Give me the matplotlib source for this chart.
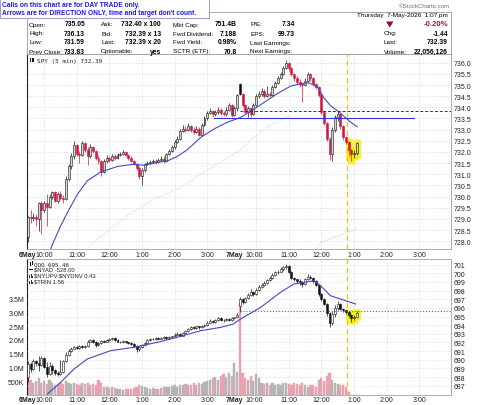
import matplotlib
matplotlib.use('Agg')
from matplotlib import pyplot as plt
from matplotlib.patches import Rectangle, Polygon
from matplotlib import transforms

plt.rcParams['font.family'] = ['Liberation Sans', 'DejaVu Sans']

#---- Data ----#
# SPY 5 min bars (bar index 0 = 6May 9:30, 78 = 7May 9:30).
spy_cls = [729.10, 729.05, 729.10, 729.00, 729.70, 729.40, 729.70, 729.55, 730.00, 730.20,
           729.80, 730.10, 729.95, 729.90, 730.80, 731.35, 731.80, 732.30, 731.90, 731.85,
           732.40, 732.10, 731.80, 732.20, 732.05, 731.75, 731.60, 731.10, 731.60, 731.75,
           731.65, 731.80, 731.75, 731.85, 731.90, 732.00, 731.85, 731.75, 731.60, 731.45,
           731.30, 730.90, 731.20, 731.45, 731.50, 731.55, 731.60, 731.55, 731.65, 731.70,
           731.60, 731.90, 732.05, 732.20, 732.45, 732.60, 732.95, 733.05, 733.00, 733.15,
           733.00, 732.90, 733.05, 732.75, 733.20, 733.50, 733.75, 733.85, 733.70, 733.80,
           733.90, 733.75, 733.70, 733.90, 734.10, 733.65, 733.95, 734.55, 734.60, 734.10,
           733.80, 733.95, 733.70, 734.10, 734.50, 734.60, 734.75, 734.50, 734.60, 734.55,
           734.90, 735.10, 735.30, 735.50, 735.75, 736.00, 735.75, 735.50, 735.30, 735.15,
           735.05, 735.00, 735.20, 735.50, 735.30, 735.05, 734.90, 734.55, 733.80, 733.30,
           732.60, 731.90, 733.00, 733.55, 733.70, 733.15, 732.65, 732.45, 732.10, 731.90,
           731.95, 732.39]
spy_hi = [729.15, 729.40, 729.25, 729.20, 729.75, 729.80, 729.80, 730.10, 730.10, 730.25,
          730.25, 730.20, 730.25, 730.05, 730.90, 731.45, 731.95, 732.50, 732.35, 732.05,
          732.50, 732.45, 732.20, 732.35, 732.25, 732.10, 731.85, 731.65, 731.70, 731.85,
          731.80, 731.90, 731.90, 731.95, 732.00, 732.10, 732.05, 731.90, 731.80, 731.65,
          731.50, 731.35, 731.30, 731.50, 731.60, 731.65, 731.70, 731.70, 731.75, 731.80,
          731.80, 731.95, 732.15, 732.30, 732.55, 732.70, 733.05, 733.20, 733.15, 733.30,
          733.20, 733.10, 733.15, 733.10, 733.30, 733.60, 733.85, 733.95, 733.90, 733.90,
          734.00, 733.95, 733.85, 734.00, 734.20, 734.15, 734.05, 734.60, 735.10, 734.65,
          734.15, 734.05, 734.00, 734.20, 734.60, 734.75, 734.85, 734.80, 734.95, 734.70,
          735.00, 735.20, 735.40, 735.60, 735.85, 736.13, 736.05, 735.80, 735.55, 735.40,
          735.25, 735.15, 735.30, 735.60, 735.55, 735.35, 735.10, 734.95, 734.60, 733.85,
          733.35, 732.65, 733.10, 733.65, 733.85, 733.75, 733.20, 732.70, 732.50, 732.15,
          732.10, 732.45]
spy_lo = [727.95, 728.80, 728.90, 728.70, 728.45, 728.30, 729.30, 728.70, 729.50, 729.90,
          729.75, 729.70, 729.85, 729.70, 729.85, 730.70, 731.25, 731.70, 731.80, 731.50,
          731.80, 732.00, 731.40, 731.75, 731.95, 731.65, 731.45, 730.90, 731.05, 731.50,
          731.55, 731.60, 731.65, 731.70, 731.80, 731.85, 731.80, 731.65, 731.55, 731.40,
          731.20, 730.80, 730.50, 731.10, 731.40, 731.45, 731.50, 731.45, 731.50, 731.60,
          731.50, 731.55, 731.85, 732.00, 732.15, 732.40, 732.55, 732.90, 732.90, 732.95,
          732.90, 732.80, 732.85, 732.70, 732.70, 733.15, 733.45, 733.70, 733.55, 733.60,
          733.70, 733.65, 733.60, 733.60, 733.85, 733.55, 733.60, 733.85, 734.55, 734.00,
          733.70, 733.55, 733.55, 733.65, 734.05, 734.40, 734.50, 734.40, 734.45, 734.45,
          734.50, 734.85, 735.05, 735.25, 735.45, 735.70, 735.65, 735.40, 735.20, 735.05,
          734.90, 734.25, 734.95, 735.15, 735.20, 734.95, 734.80, 734.45, 733.70, 733.20,
          732.50, 731.65, 731.59, 732.90, 733.40, 733.05, 732.55, 732.35, 731.80, 731.60,
          731.75, 731.85]
spy_day_open = {0: 728.20, 78: 735.05}

# SPY moving average (blue) and slower averages (dotted), read at bar positions.
spy_ma_x = [8.0, 9.1, 12.1, 14.6, 18.3, 21.9, 26.8, 33, 39, 43, 47.7, 51.4, 55, 58.7, 63.6,
            68.5, 73.4, 78.3, 83, 90.4, 93, 96.7, 100.4, 103, 105, 107, 108.8, 111.4,
            113.9, 116.3, 118.8, 121.2]
spy_ma_y = [727.5, 727.87, 728.69, 729.29, 730.11, 730.71, 731.1, 731.35, 731.45, 731.4,
            731.53, 731.6, 731.8, 732.1, 732.65, 733.03, 733.33, 733.55, 733.9, 734.5,
            734.7, 734.95, 735.05, 735.1, 735.02, 734.85, 734.45, 734.07, 733.85, 733.6,
            733.33, 733.13]
spy_ma2_x = [22, 23.2, 31.7, 39, 46.4, 55, 63.6, 71, 78.3, 84, 90, 96]
spy_ma2_y = [727.6, 727.87, 728.69, 729.35, 729.9, 730.33, 731.0, 731.55, 732.1, 732.75,
             733.25, 733.6]
spy_ma3_x = [106, 108, 121]
spy_ma3_y = [727.6, 727.95, 728.55]

# QQQ 5 min bars.
qqq_cls = [689.50, 688.90, 689.80, 689.60, 689.40, 690.20, 689.20, 688.40, 689.30, 688.80,
           688.50, 688.30, 688.60, 689.80, 690.50, 691.00, 691.30, 691.50, 691.40, 691.55,
           691.45, 691.60, 692.10, 692.30, 692.10, 691.70, 691.90, 692.20, 692.10, 692.30,
           692.40, 692.50, 692.30, 692.10, 692.00, 692.15, 692.05, 691.90, 691.80, 691.60,
           691.20, 691.50, 691.70, 691.95, 692.30, 692.40, 692.35, 692.50, 692.45, 692.55,
           692.60, 692.50, 692.65, 692.70, 692.90, 693.00, 692.80, 693.10, 693.30, 693.60,
           693.80, 693.70, 693.85, 693.75, 693.90, 694.00, 694.30, 694.50, 694.40, 694.60,
           694.80, 694.60, 694.55, 694.70, 694.60, 694.80, 694.90, 695.20, 697.00, 696.70,
           697.10, 697.50, 697.80, 697.60, 698.10, 698.40, 698.70, 698.90, 699.20, 699.50,
           699.80, 700.10, 700.20, 700.50, 700.70, 700.90, 700.20, 699.50, 699.30, 699.10,
           699.00, 698.80, 699.30, 699.60, 699.50, 699.10, 698.70, 697.60, 697.00, 696.50,
           695.40, 694.20, 695.30, 696.00, 696.50, 695.90, 695.70, 695.50, 695.20, 694.80,
           695.00, 695.46]
qqq_hi = [689.90, 689.70, 690.10, 690.00, 690.40, 690.40, 690.30, 689.70, 689.70, 689.50,
          688.90, 688.70, 690.00, 690.00, 690.90, 691.30, 691.50, 691.60, 691.60, 691.70,
          691.65, 691.75, 692.30, 692.45, 692.40, 692.20, 692.00, 692.30, 692.30, 692.40,
          692.55, 692.65, 692.60, 692.40, 692.20, 692.25, 692.20, 692.10, 692.00, 691.90,
          691.70, 691.60, 691.80, 692.05, 692.40, 692.50, 692.50, 692.60, 692.60, 692.65,
          692.70, 692.70, 692.75, 692.80, 693.05, 693.20, 693.10, 693.20, 693.40, 693.70,
          693.95, 693.90, 693.95, 693.95, 694.00, 694.10, 694.45, 694.70, 694.60, 694.75,
          694.95, 694.90, 694.70, 694.80, 694.80, 694.90, 695.00, 695.40, 697.30, 697.20,
          697.30, 697.70, 698.20, 697.95, 698.30, 698.60, 698.90, 699.10, 699.40, 699.70,
          700.00, 700.30, 700.40, 700.70, 700.90, 701.10, 701.00, 700.30, 699.60, 699.40,
          699.30, 699.10, 699.50, 699.90, 699.80, 699.60, 699.20, 698.80, 697.70, 697.10,
          696.60, 695.50, 695.60, 696.30, 696.80, 696.60, 696.00, 695.80, 695.60, 695.30,
          695.20, 695.60]
qqq_lo = [687.40, 688.60, 688.80, 689.30, 688.70, 689.30, 689.00, 688.00, 688.20, 688.40,
          688.20, 688.10, 688.20, 688.50, 689.70, 690.40, 690.90, 691.20, 691.30, 691.30,
          691.35, 691.40, 691.50, 692.00, 691.90, 691.50, 691.60, 691.80, 692.00, 692.00,
          692.20, 692.30, 692.20, 692.00, 691.90, 691.90, 691.95, 691.80, 691.70, 691.50,
          690.90, 691.00, 691.40, 691.60, 691.90, 692.20, 692.25, 692.30, 692.35, 692.40,
          692.45, 692.40, 692.45, 692.55, 692.60, 692.85, 692.70, 692.75, 693.00, 693.20,
          693.50, 693.60, 693.60, 693.60, 693.65, 693.80, 693.95, 694.20, 694.30, 694.30,
          694.50, 694.50, 694.40, 694.45, 694.50, 694.50, 694.70, 694.80, 695.50, 696.45,
          696.60, 697.00, 697.40, 697.40, 697.50, 698.00, 698.30, 698.50, 698.80, 699.10,
          699.35, 699.70, 699.90, 700.10, 700.30, 700.50, 700.00, 699.30, 699.10, 698.90,
          698.70, 698.40, 698.70, 699.20, 699.30, 698.90, 698.50, 697.40, 696.80, 696.30,
          695.10, 693.80, 694.00, 695.00, 695.80, 695.70, 695.50, 695.30, 694.90, 694.40,
          694.60, 694.90]
qqq_day_open = {0: 688.00, 78: 696.20}
qqq_ma_x = [7.2, 12.1, 17, 21.9, 30.5, 39, 47.7, 55, 63.6, 71, 75.7, 78.3, 85.7, 93, 97.9,
            105.3, 107.7, 111.4, 115, 120.6]
qqq_ma_y = [686.03, 687.39, 688.93, 690.09, 691.05, 691.44, 692.02, 692.6, 693.36, 693.75,
            694.14, 694.72, 696.07, 697.81, 698.77, 699.15, 698.57, 697.41, 697.03, 696.45]

# Volume (millions).
vol = [1.10, 0.55, 0.45, 0.50, 0.60, 0.45, 0.50, 0.40, 0.55, 0.45,
       0.35, 0.40, 0.45, 0.40, 0.50, 0.45, 0.40, 0.42, 0.40, 0.38,
       0.42, 0.40, 0.45, 0.38, 0.40, 0.35, 0.55, 0.42, 0.30, 0.28,
       0.25, 0.30, 0.25, 0.22, 0.20, 0.18, 0.22, 0.20, 0.22, 0.25,
       0.30, 0.35, 0.32, 0.28, 0.25, 0.22, 0.25, 0.20, 0.22, 0.25,
       0.28, 0.30, 0.28, 0.32, 0.35, 0.30, 0.38, 0.35, 0.40, 0.38,
       0.35, 0.42, 0.38, 0.45, 0.40, 0.48, 0.50, 0.55, 0.60, 0.65,
       0.55, 0.70, 0.75, 0.65, 0.80, 0.70, 1.15, 0.85, 3.35, 0.80,
       0.60, 0.55, 0.70, 0.50, 0.75, 0.60, 0.45, 0.40, 0.45, 0.38,
       0.42, 0.35, 0.40, 0.38, 0.45, 0.42, 0.40, 0.35, 0.45, 0.40,
       0.38, 0.42, 0.35, 0.30, 0.38, 0.35, 0.30, 0.55, 0.62, 0.50,
       0.70, 0.80, 0.55, 0.45, 0.40, 0.38, 0.35, 0.30, 0.10, 0.00,
       0.00, 0.00]

# Levels and markers.
spy_dash_level = 733.82
spy_solid_level = 733.5
spy_solid_span = (68.4, 142)
qqq_dash_level = 695.6
time_marker = 117.3
highlight_bars = [118, 119, 120, 121]

# Time axis labels (bar index, text, bold).
xlab_pos = [0, 6, 18, 30, 42, 54, 66, 76, 83.2, 96, 108, 120, 132, 144]
xlab_txt = ['6May', '10:00', '11:00', '12:00', '1:00', '2:00', '3:00',
            '7May', '10:00', '11:00', '12:00', '1:00', '2:00', '3:00']
xlab_bold = [True, False, False, False, False, False, False,
             True, False, False, False, False, False, False]
hour_grid = [6, 18, 30, 42, 54, 66, 84, 96, 108, 120, 132, 144]

RED = '#d2163e'
BLUE = '#4646c8'
GOLD = '#f7bf12'

#---- Figure helpers (pixel coordinates, origin top left) ----#
W, H = 480.0, 406.0
fig = plt.figure(figsize=(4.8, 4.06), dpi=100)


def fbox(x0, y0, x1, y1):
    return [x0/W, 1-y1/H, (x1-x0)/W, (y1-y0)/H]


def ftxt(x, y, s, **kw):
    kw.setdefault('va', 'center')
    kw.setdefault('fontsize', 4.6)
    fig.text(x/W, 1-y/H, s, **kw)


def prect(x0, y0, x1, y1, **kw):
    fig.add_artist(Rectangle((x0/W, 1-y1/H), (x1-x0)/W, (y1-y0)/H,
                             transform=fig.transFigure, **kw))


def opens(cls, day_open):
    o = []
    for i in range(len(cls)):
        o.append(day_open[i] if i in day_open else cls[i-1])
    return o


def candles(a, o, h, l, c, up_col, dn_col, hollow, minh):
    for i in range(len(c)):
        prev = c[i-1] if i else o[i]
        col = dn_col if c[i] < prev else up_col
        a.vlines(i, l[i], h[i], color=col, lw=0.5, zorder=3)
        b0, b1 = min(o[i], c[i]), max(o[i], c[i])
        fill = hollow if c[i] > o[i] else col
        a.add_patch(Rectangle((i-0.36, b0), 0.72, max(b1-b0, minh),
                              fc=fill, ec=col, lw=0.4, zorder=4))


spy_opn = opens(spy_cls, spy_day_open)
qqq_opn = opens(qqq_cls, qqq_day_open)
nbar = 156

#---- Header boxes ----#
prect(27, 12.7, 451, 55, fc='white', ec='#9a9a9a', lw=0.6, zorder=1)
prect(0, 0, 209, 18.5, fc='white', ec='#8c8cb4', lw=0.6, zorder=5)
ftxt(2, 5.8, 'Calls on this chart are for DAY TRADE only.', color='#1c1ce6',
     fontweight='bold', fontsize=4.8, zorder=6)
ftxt(2, 13.6, "Arrows are for DIRECTION ONLY, time and target don't count.",
     color='#1c1ce6', fontweight='bold', fontsize=4.8, zorder=6)
ftxt(450, 6.5, '\u00a9StockCharts.com', ha='right', color='#707070', fontsize=4.4)
ftxt(448, 16, 'Thursday  7-May-2026  1:07 pm', ha='right')

rows = [25, 34, 43, 52]
col_labels = [(29, 85, ['Open:', 'High:', 'Low:', 'Prev Close:'],
               ['735.05', '736.13', '731.59', '733.83']),
              (101, 161, ['Ask:', 'Bid:', 'Last:', 'Optionable:'],
               ['732.40 x 100', '732.39 x 13', '732.39 x 20', 'yes']),
              (173, 237, ['Mkt Cap:', 'Fwd Dividend:', 'Fwd Yield:', 'SCTR (ETF):'],
               ['751.4B', '7.188', '0.98%', '70.8']),
              (250, 295, ['P/E:', 'EPS:', 'Last Earnings:', 'Next Earnings:'],
               ['7.34', '99.73', '', ''])]
for xl, xr, labs, vals in col_labels:
    for yy, lab, val in zip(rows, labs, vals):
        ftxt(xl, yy, lab)
        ftxt(xr, yy, val, ha='right', fontweight='bold', fontsize=4.9)
for yy, lab, val in zip(rows[1:], ['Chg:', 'Last:', 'Volume:'],
                        ['-1.44', '732.39', '22,056,126']):
    ftxt(384, yy, lab)
    ftxt(448, yy, val, ha='right', fontweight='bold', fontsize=4.9)
ftxt(448, 25, '-0.20%', ha='right', fontweight='bold', fontsize=5.6, color='#b4143c')
fig.add_artist(Polygon([(386/W, 1-22.5/H), (393.5/W, 1-22.5/H), (389.75/W, 1-28.5/H)],
                       closed=True, transform=fig.transFigure, fc='#9c0a30', ec='none'))

#---- Main SPY panel ----#
ax = fig.add_axes(fbox(27, 55, 451, 250))
ax.set_xlim(-0.3, nbar-0.3)
ax.set_ylim(727.65, 736.39)
candles(ax, spy_opn, spy_hi, spy_lo, spy_cls, '#111111', RED, '#d4d4d4', 0.03)
for i in highlight_bars:
    ax.vlines(i, spy_lo[i]-0.12, spy_hi[i]+0.12, color='#f6f000', lw=5, alpha=0.85, zorder=2)
ax.plot(spy_ma_x, spy_ma_y, color=BLUE, lw=0.8, zorder=5)
ax.plot(spy_ma2_x, spy_ma2_y, color='#f2a6b4', lw=0.6, ls=':', zorder=2)
ax.plot(spy_ma3_x, spy_ma3_y, color='#a8b89c', lw=0.6, ls=':', zorder=2)
ax.plot([78, nbar], [spy_dash_level]*2, color='#1e1ee8', lw=0.7, ls=(0, (3, 2)), zorder=5)
ax.plot(spy_solid_span, [spy_solid_level]*2, color='#3030e8', lw=0.8, zorder=5)
ax.axvline(time_marker, color=GOLD, lw=0.9, ls=(0, (4, 3)), zorder=3)
ax.set_yticks([728 + 0.5*k for k in range(17)])
ax.set_yticklabels(['%.1f' % (728 + 0.5*k) for k in range(17)])
ax.yaxis.tick_right()
ax.set_xticks(hour_grid)
ax.set_xticklabels([])
ax.tick_params(length=0, labelsize=5, colors='#222222', pad=2)
ax.grid(True, ls=':', lw=0.5, color='#c8c8c8')
ax.set_axisbelow(True)
for s in ['top', 'right', 'bottom']:
    ax.spines[s].set_color('#a0a0a0')
    ax.spines[s].set_linewidth(0.6)
ax.spines['left'].set_color('#222222')
ax.spines['left'].set_linewidth(0.8)
ax.text(0.024, 0.967, 'SPY (5 min) 732.39', transform=ax.transAxes, family='DejaVu Sans Mono',
        fontsize=4.3, va='center', color='#222222')
prect(29.5, 59, 31, 63, fc='#111111', ec='none', zorder=6)
prect(32, 58.5, 33.5, 62.5, fc='#111111', ec='none', zorder=6)

#---- Lower QQQ panel with volume ----#
ax2 = fig.add_axes(fbox(27, 260, 451, 396))
ax2.set_xlim(-0.3, nbar-0.3)
ax2.set_ylim(0, 4.93)
vcol = ['#eaa3ae' if c < o else '#b4b4b4' for o, c in zip(spy_opn, spy_cls)]
ax2.bar(range(len(vol)), vol, width=0.8, color=vcol, edgecolor=vcol, lw=0.3, zorder=2)
ax2.set_yticks([0.5, 1.0, 1.5, 2.0, 2.5, 3.0, 3.5])
ax2.set_yticklabels(['500K', '1.0M', '1.5M', '2.0M', '2.5M', '3.0M', '3.5M'])
ax2.set_xticks(hour_grid)
ax2.set_xticklabels([])
ax2.tick_params(length=0, labelsize=5, colors='#222222', pad=2)
ax2.grid(True, axis='x', ls=':', lw=0.5, color='#c8c8c8')
ax2.set_axisbelow(True)
for s in ['top', 'right', 'bottom']:
    ax2.spines[s].set_color('#a0a0a0')
    ax2.spines[s].set_linewidth(0.6)
ax2.spines['left'].set_color('#222222')
ax2.spines['left'].set_linewidth(0.8)

ax3 = ax2.twinx()
ax3.set_xlim(-0.3, nbar-0.3)
ax3.set_ylim(685.92, 701.66)
for i in highlight_bars:
    ax3.vlines(i, qqq_lo[i]-0.3, qqq_hi[i]+0.3, color='#f6f000', lw=5, alpha=0.85, zorder=2)
candles(ax3, qqq_opn, qqq_hi, qqq_lo, qqq_cls, '#111111', '#111111', 'white', 0.08)
ax3.plot(qqq_ma_x, qqq_ma_y, color=BLUE, lw=0.8, zorder=5)
ax3.plot([78, nbar], [qqq_dash_level]*2, color='#5a5af0', lw=0.8, ls=':', zorder=5)
ax3.axvline(time_marker, color=GOLD, lw=0.9, ls=(0, (4, 3)), zorder=3)
ax3.set_yticks(range(687, 702))
ax3.tick_params(length=0, labelsize=5, colors='#222222', pad=2)
ax3.grid(True, axis='y', ls=':', lw=0.5, color='#d0d0d0')
for s in ['top', 'right', 'bottom', 'left']:
    ax3.spines[s].set_visible(False)

legend_lines = ['QQQ 695.46', r'\$NYAD -528.00', r'\$NYUPV:\$NYDNV 0.43', r'\$TRIN 1.56']
legend_y = [264.5, 270.5, 276.5, 282.5]
for k, (s, yy) in enumerate(zip(legend_lines, legend_y)):
    ftxt(33.5, yy, s, fontsize=4.2, color='#222222',
         family='DejaVu Sans Mono' if k == 0 else None)
prect(29.5, 262.5, 31, 266.5, fc='#111111', ec='none', zorder=6)
prect(32, 262, 33, 266, fc='#111111', ec='none', zorder=6)
prect(29, 270.2, 33, 271, fc='#111111', ec='none', zorder=6)
for yy in legend_y[2:]:
    prect(29.2, yy-1, 30.2, yy+2, fc='#333333', ec='none', zorder=6)
    prect(30.8, yy-2, 31.8, yy+2, fc='#333333', ec='none', zorder=6)
    prect(32.4, yy, 33.2, yy+2, fc='#333333', ec='none', zorder=6)

#---- Time labels ----#
for a, ypx in [(ax, 255.5), (ax2, 401)]:
    tr = transforms.blended_transform_factory(a.transData, fig.transFigure)
    for xp, s, b in zip(xlab_pos, xlab_txt, xlab_bold):
        a.text(xp, 1-ypx/H, s, transform=tr, ha='center', va='center', fontsize=5,
               fontweight='bold' if b else 'normal', color='#222222', clip_on=False)

fig.savefig('out.png', dpi=100)
plt.close(fig)
